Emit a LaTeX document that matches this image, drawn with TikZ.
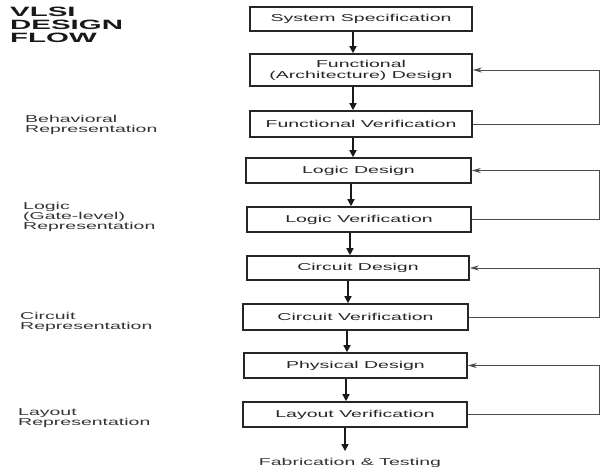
\documentclass[tikz,border=0pt]{standalone}
\usepackage{fontspec}
\usetikzlibrary{arrows.meta}
\newfontfamily\wfont[FakeStretch=1.95]{Liberation Sans}
\newfontfamily\tfont[FakeStretch=2.18]{Liberation Sans}
\begin{document}
\begin{tikzpicture}[x=1pt,y=-1pt,
  box/.style={draw=black!85, line width=1.6pt, inner sep=0pt, align=center,
    font=\wfont\fontsize{10}{11}\selectfont, text=black!85},
  lbl/.style={inner sep=0pt, align=left, font=\wfont\fontsize{10}{10}\selectfont, text=black!80},
  arr/.style={line width=1.5pt, draw=black!90, -{Triangle[width=7pt,length=7pt]}},
  fb/.style={line width=0.9pt, draw=black!70, -{Stealth[width=5pt,length=9pt]}}]
\useasboundingbox (0,0) rectangle (601,467);
% title
\node[inner sep=0pt, anchor=north west, align=left, text=black!90,
  font=\tfont\bfseries\fontsize{13.5}{13}\selectfont] (title) at (10,7) {VLSI\\DESIGN\\FLOW};
% boxes
\node[box, minimum width=222pt, minimum height=24pt] (ss)  at (361,19)    {System Specification};
\node[box, minimum width=222pt, minimum height=32pt] (fd)  at (361,70)    {Functional\\(Architecture) Design};
\node[box, minimum width=222pt, minimum height=26pt] (fv)  at (361,124)   {Functional Verification};
\node[box, minimum width=225pt, minimum height=25pt] (ld)  at (358.5,170.5) {Logic Design};
\node[box, minimum width=224pt, minimum height=25pt] (lv)  at (359,219.5) {Logic Verification};
\node[box, minimum width=222pt, minimum height=24pt] (cd)  at (358,268)   {Circuit Design};
\node[box, minimum width=225pt, minimum height=26pt] (cv)  at (355.5,317) {Circuit Verification};
\node[box, minimum width=223pt, minimum height=25pt] (pd)  at (355.5,365.5) {Physical Design};
\node[box, minimum width=224pt, minimum height=25pt] (lav) at (355,414.5) {Layout Verification};
\node[lbl, anchor=base] (fab) at (350,465.5) {Fabrication \& Testing};
% left labels
\node[lbl, anchor=north west] (beh) at (25,115) {Behavioral\\Representation};
\node[lbl, anchor=north west] (lgr) at (23,202) {Logic\\(Gate-level)\\Representation};
\node[lbl, anchor=north west] (cir) at (20,312) {Circuit\\Representation};
\node[lbl, anchor=north west] (lay) at (18,408) {Layout\\Representation};
% arrow columns
\coordinate (a1) at (353,0);
\coordinate (a2) at (353,0);
\coordinate (a3) at (353,0);
\coordinate (a4) at (351,0);
\coordinate (a5) at (350,0);
\coordinate (a6) at (348,0);
\coordinate (a7) at (347,0);
\coordinate (a8) at (346,0);
\coordinate (a9) at (345,0);
\draw[arr] (ss.south -| a1) -- (fd.north -| a1);
\draw[arr] (fd.south -| a2) -- (fv.north -| a2);
\draw[arr] (fv.south -| a3) -- (ld.north -| a3);
\draw[arr] (ld.south -| a4) -- (lv.north -| a4);
\draw[arr] (lv.south -| a5) -- (cd.north -| a5);
\draw[arr] (cd.south -| a6) -- (cv.north -| a6);
\draw[arr] (cv.south -| a7) -- (pd.north -| a7);
\draw[arr] (pd.south -| a8) -- (lav.north -| a8);
\draw[arr] (lav.south -| a9) -- ([yshift=7pt]fab.north -| a9);
% feedback loops
\coordinate (r) at (599.5,0);
\draw[fb] (fv.east) -- (fv.east -| r) -- (fd.east -| r) -- (fd.east);
\draw[fb] (lv.east) -- (lv.east -| r) -- (ld.east -| r) -- (ld.east);
\draw[fb] (cv.east) -- (cv.east -| r) -- (cd.east -| r) -- (cd.east);
\draw[fb] (lav.east) -- (lav.east -| r) -- (pd.east -| r) -- (pd.east);
\end{tikzpicture}
\end{document}
